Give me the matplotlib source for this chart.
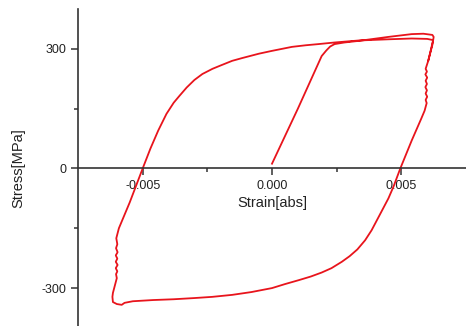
import numpy as np
import matplotlib.pyplot as plt

plt.rcParams['font.family'] = ['Liberation Sans', 'DejaVu Sans']
plt.rcParams['axes.unicode_minus'] = False

# first loading from zero
strain_load = [0.0, 0.0010, 0.00192, 0.00210, 0.00225, 0.00242, 0.0028]
stress_load = [12, 150, 282, 296, 306, 312, 316]

# first top pass and unloading on the right (noisy section near 0.006)
strain_top1 = [0.00335, 0.0045, 0.0054, 0.00585, 0.0062, 0.00625,
               0.0062, 0.00612, 0.00604, 0.00598,
               0.00594, 0.00599, 0.00593, 0.00600, 0.00594, 0.00599, 0.00593,
               0.00599, 0.00594, 0.00600, 0.00594, 0.00598, 0.00595, 0.00590]
stress_top1 = [320, 330, 337, 338, 335, 330,
               310, 290, 270, 258,
               250, 243, 236, 228, 220, 212, 204,
               196, 188, 180, 172, 164, 157, 145]

# lower branch down to the bottom-left corner
strain_low = [0.00577, 0.0054, 0.00496, 0.0047, 0.0045, 0.0042, 0.00385, 0.0036,
              0.0033, 0.003, 0.0027, 0.0023, 0.00192, 0.0015, 0.00104, 0.0005,
              0.0, -0.0008, -0.00154, -0.00231, -0.003, -0.0038, -0.0046,
              -0.00538, -0.0057, -0.00581, -0.006, -0.00615, -0.00617, -0.00615,
              -0.0060]
stress_low = [125, 70, 0, -45, -75, -112, -155, -180,
              -203, -220, -234, -250, -261, -271, -280, -290,
              -300, -310, -317, -322, -325, -328, -330,
              -333, -337, -342, -340, -335, -322, -312,
              -275]

# noisy left side, then reloading up to the top
strain_up = [-0.00603, -0.00598, -0.00604, -0.00597, -0.00604, -0.00598, -0.00604,
             -0.00597, -0.00603, -0.00598, -0.00602, -0.00592,
             -0.0055, -0.005, -0.0047, -0.0044, -0.00408, -0.0038, -0.00358,
             -0.0033, -0.003, -0.00269, -0.0023, -0.002, -0.00154, -0.00115,
             -0.0005, 0.0, 0.00077, 0.0013, 0.0018, 0.00242]
stress_up = [-265, -258, -250, -242, -234, -226, -218,
             -210, -200, -190, -175, -150,
             -85, 0, 50, 95, 137, 165, 182,
             203, 222, 237, 250, 258, 270, 277,
             288, 295, 305, 309, 312, 316]

# second top pass and start of the second unloading
strain_top2 = [0.00335, 0.0045, 0.0054, 0.0060, 0.00623, 0.00615, 0.00604]
stress_top2 = [321, 324, 326, 325, 322, 300, 270]

strain = np.array(strain_load + strain_top1 + strain_low + strain_up + strain_top2)
stress = np.array(stress_load + stress_top1 + stress_low + stress_up + stress_top2)

fig = plt.figure(figsize=(4.66, 3.26), dpi=100)
ax = fig.add_axes([0.1674, -0.006, 0.8326, 0.9784])

ax.plot(strain, stress, color='#e8141c', lw=1.3, solid_joinstyle='round')

ax.set_xlim(-0.0075, 0.0075)
ax.set_ylim(-400, 400)

ax.spines['top'].set_visible(False)
ax.spines['right'].set_visible(False)
ax.spines['bottom'].set_position(('data', 0))
for s in ('left', 'bottom'):
    ax.spines[s].set_linewidth(1.2)
    ax.spines[s].set_color('#333333')

ax.set_xticks([-0.005, 0.0, 0.005])
ax.set_xticklabels(['-0.005', '0.000', '0.005'])
ax.set_xticks([-0.0025, 0.0025], minor=True)
ax.set_yticks([-300, 0, 300])
ax.set_yticks([-150, 150], minor=True)

ax.tick_params(which='major', direction='out', length=5, width=1.1,
               color='#333333', labelsize=9, labelcolor='#222222')
ax.tick_params(which='minor', direction='out', length=3, width=1.1, color='#333333')

ax.set_xlabel('Strain[abs]', fontsize=10.5, color='#222222', labelpad=3)
ax.set_ylabel('Stress[MPa]', fontsize=10.5, color='#222222')
ax.yaxis.set_label_coords(-0.135, 0.5)

fig.savefig('out.png', dpi=100)
